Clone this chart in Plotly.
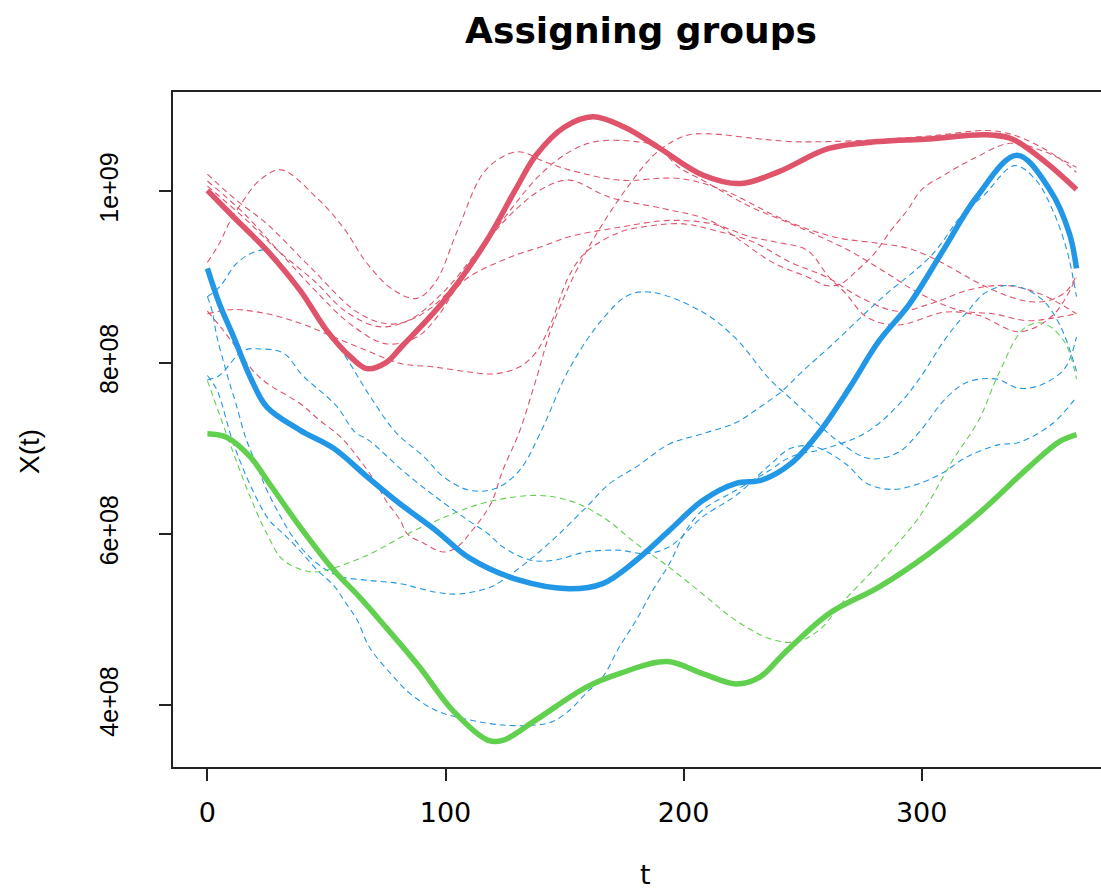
import plotly.graph_objects as go

SCALE = 1e8  # values below are in units of 1e8

# ---- thick group curves ----
red_mean_t = [0, 11, 25, 39, 50, 60, 67, 75, 82, 99, 117, 130, 138, 150, 162, 175, 189, 208, 224, 240, 261, 282, 303, 327, 338, 352, 365]
red_mean_v = [10.01, 9.70, 9.31, 8.84, 8.38, 8.07, 7.93, 8.0, 8.2, 8.71, 9.41, 10.05, 10.42, 10.75, 10.87, 10.75, 10.52, 10.19, 10.09, 10.23, 10.5, 10.58, 10.61, 10.66, 10.61, 10.34, 10.02]

blue_mean_t = [0, 5, 11, 18, 25, 39, 53, 67, 81, 96, 110, 131, 152, 166, 180, 194, 208, 222, 233, 245, 257, 270, 282, 295, 309, 323, 340, 354, 362, 365]
blue_mean_v = [9.10, 8.69, 8.30, 7.83, 7.48, 7.21, 7.0, 6.67, 6.35, 6.04, 5.72, 5.46, 5.36, 5.42, 5.69, 6.04, 6.39, 6.59, 6.63, 6.82, 7.19, 7.72, 8.25, 8.69, 9.31, 9.93, 10.42, 10.01, 9.51, 9.10]

green_mean_t = [0, 8, 18, 25, 39, 53, 64, 75, 89, 103, 118, 124, 138, 159, 173, 193, 208, 222, 232, 242, 261, 282, 303, 324, 345, 358, 365]
green_mean_v = [7.17, 7.13, 6.90, 6.63, 6.08, 5.58, 5.26, 4.91, 4.45, 3.94, 3.59, 3.59, 3.83, 4.21, 4.37, 4.51, 4.37, 4.25, 4.33, 4.6, 5.07, 5.38, 5.77, 6.24, 6.78, 7.08, 7.16]

# ---- red group members ----
red1_t = [0, 5, 9, 15, 22, 31, 45, 57, 67, 78, 88, 96, 105, 117, 130, 142, 152, 173, 198, 217, 238, 252, 266, 280, 295, 309, 323, 337, 346, 354, 361, 365]
red1_v = [9.17, 9.39, 9.62, 9.89, 10.13, 10.25, 9.95, 9.58, 9.16, 8.85, 8.75, 8.95, 9.54, 10.25, 10.46, 10.34, 10.25, 10.13, 10.15, 10.01, 9.72, 9.56, 9.45, 9.40, 9.33, 9.16, 8.94, 8.77, 8.71, 8.73, 8.84, 9.02]

red2_t = [0, 12, 25, 43, 64, 78, 92, 108, 125, 140, 152, 163, 180, 189, 198, 208, 218, 228, 240, 255, 270, 285, 299, 316, 330, 344, 355, 365]
red2_v = [10.20, 9.90, 9.62, 9.12, 8.57, 8.45, 8.6, 9.05, 9.7, 10.2, 10.46, 10.58, 10.58, 10.52, 10.28, 10.13, 9.97, 9.82, 9.68, 9.5, 9.3, 9.05, 8.81, 8.61, 8.57, 8.49, 8.52, 8.57]

red3_t = [0, 15, 30, 45, 60, 75, 88, 97, 107, 127, 140, 152, 173, 194, 212, 228, 240, 252, 261, 268, 277, 290, 310, 324, 341, 355, 365]
red3_v = [10.12, 9.75, 9.3, 8.85, 8.45, 8.22, 8.3, 8.55, 8.94, 9.23, 9.35, 9.47, 9.58, 9.66, 9.62, 9.47, 9.40, 9.31, 9.0, 8.81, 8.53, 8.44, 8.59, 8.55, 8.36, 8.55, 9.0]

red4_t = [0, 15, 30, 45, 58, 72, 85, 100, 115, 130, 142, 152, 169, 191, 211, 225, 238, 252, 260, 266, 273, 280, 287, 294, 300, 310, 323, 337, 350, 365]
red4_v = [10.06, 9.7, 9.3, 8.95, 8.6, 8.42, 8.5, 8.85, 9.35, 9.8, 10.05, 10.13, 9.93, 9.80, 9.66, 9.4, 9.16, 9.0, 8.9, 8.92, 9.08, 9.27, 9.54, 9.78, 10.02, 10.2, 10.40, 10.56, 10.48, 10.28]

red5_t = [0, 6, 12, 19, 25, 39, 47, 56, 63, 70, 75, 81, 84, 91, 99, 105, 110, 119, 124, 131, 138, 145, 159, 177, 189, 201, 211, 229, 245, 260, 280, 305, 327, 337, 347, 357, 365]
red5_v = [8.6, 8.4, 8.18, 7.91, 7.76, 7.52, 7.33, 7.13, 6.90, 6.63, 6.39, 6.16, 6.0, 5.89, 5.79, 5.85, 6.0, 6.35, 6.74, 7.19, 7.8, 8.44, 9.29, 10.07, 10.46, 10.65, 10.67, 10.62, 10.58, 10.58, 10.6, 10.65, 10.71, 10.67, 10.56, 10.40, 10.22]

red6_t = [0, 11, 25, 39, 53, 67, 81, 95, 110, 121, 131, 138, 144, 152, 159, 173, 187, 200, 212, 229, 245, 260, 275, 290, 305, 320, 335, 350, 365]
red6_v = [8.57, 8.62, 8.57, 8.46, 8.30, 8.14, 7.99, 7.95, 7.89, 7.87, 7.95, 8.12, 8.44, 9.02, 9.29, 9.52, 9.60, 9.62, 9.55, 9.41, 9.17, 9.0, 8.75, 8.6, 8.7, 8.85, 8.9, 8.8, 8.57]

# ---- blue group members ----
blue1_t = [0, 5, 12, 18, 25, 35, 46, 58, 68, 79, 91, 99, 110, 121, 131, 140, 152, 166, 177, 187, 208, 222, 236, 245, 254, 265, 278, 290, 299, 310, 319, 331, 341, 350, 360, 365]
blue1_v = [8.77, 8.88, 9.15, 9.27, 9.31, 9.0, 8.53, 8.07, 7.62, 7.19, 6.90, 6.67, 6.51, 6.53, 6.74, 7.19, 7.93, 8.51, 8.79, 8.82, 8.59, 8.28, 7.81, 7.58, 7.35, 7.08, 6.88, 6.95, 7.19, 7.58, 7.77, 7.81, 7.70, 7.74, 7.93, 8.3]

blue2_t = [0, 2, 4, 7, 9, 12, 16, 21, 25, 30, 36, 43, 50, 56, 67, 81, 96, 106, 119, 124, 135, 145, 159, 169, 180, 194, 208, 222, 232, 241, 250, 262, 283, 304, 318, 326, 339, 348, 355, 361, 365]
blue2_v = [8.77, 8.6, 8.3, 7.99, 7.79, 7.52, 7.13, 6.78, 6.51, 6.24, 5.96, 5.73, 5.58, 5.50, 5.46, 5.42, 5.32, 5.30, 5.38, 5.46, 5.69, 5.93, 6.31, 6.59, 6.78, 7.05, 7.17, 7.3, 7.48, 7.66, 7.9, 8.20, 8.75, 9.25, 9.76, 9.95, 10.30, 10.13, 9.78, 9.31, 8.77]

blue3_t = [0, 4, 11, 19, 26, 32, 39, 46, 53, 58, 63, 68, 77, 85, 96, 110, 124, 138, 145, 152, 159, 166, 173, 180, 187, 194, 201, 208, 222, 236, 245, 260, 277, 290, 299, 310, 319, 327, 338, 350, 358, 365]
blue3_v = [7.85, 7.68, 7.05, 6.51, 6.16, 6.0, 5.8, 5.58, 5.4, 5.2, 4.99, 4.68, 4.37, 4.14, 3.94, 3.83, 3.77, 3.77, 3.81, 3.94, 4.14, 4.33, 4.68, 4.99, 5.34, 5.65, 6.04, 6.28, 6.51, 6.74, 6.90, 7.0, 7.19, 7.5, 7.81, 8.28, 8.59, 8.82, 8.90, 8.75, 8.44, 7.9]

blue4_t = [0, 5, 15, 22, 32, 40, 54, 62, 68, 82, 96, 110, 118, 124, 135, 145, 159, 173, 184, 194, 208, 222, 236, 245, 255, 268, 277, 287, 297, 308, 319, 332, 341, 355, 365]
blue4_v = [7.80, 7.85, 8.14, 8.16, 8.11, 7.85, 7.50, 7.19, 7.09, 6.74, 6.43, 6.15, 6.0, 5.85, 5.70, 5.69, 5.79, 5.81, 5.77, 5.85, 6.2, 6.45, 6.8, 7.0, 7.02, 6.82, 6.59, 6.52, 6.57, 6.70, 6.90, 7.04, 7.07, 7.29, 7.6]

# ---- green group member ----
green1_t = [0, 5, 11, 18, 25, 32, 43, 50, 67, 84, 100, 117, 138, 152, 166, 180, 194, 208, 222, 236, 247, 257, 267, 282, 299, 313, 324, 332, 343, 351, 360, 365]
green1_v = [7.79, 7.40, 6.94, 6.43, 6.0, 5.69, 5.56, 5.58, 5.75, 6.0, 6.2, 6.37, 6.45, 6.39, 6.20, 5.89, 5.61, 5.30, 4.99, 4.78, 4.74, 4.88, 5.21, 5.65, 6.2, 6.86, 7.33, 7.85, 8.40, 8.46, 8.24, 7.81]

x_tick_vals = [0, 100, 200, 300]
x_tick_text = ["0", "100", "200", "300"]
y_tick_vals = [4e8, 6e8, 8e8, 1e9]
y_tick_text = ["4e+08", "6e+08", "8e+08", "1e+09"]

RED = "#DF536B"
GREEN = "#61D04F"
BLUE = "#2297E6"

# plot-area pixel geometry (used for layout only)
W, H = 1101, 890
L, R, T, B = 173, 1101, 92, 767

fig = go.Figure()

members = [
    (red1_t, red1_v, RED), (red2_t, red2_v, RED), (red3_t, red3_v, RED),
    (red4_t, red4_v, RED), (red5_t, red5_v, RED), (red6_t, red6_v, RED),
    (blue1_t, blue1_v, BLUE), (blue2_t, blue2_v, BLUE), (blue3_t, blue3_v, BLUE),
    (blue4_t, blue4_v, BLUE),
    (green1_t, green1_v, GREEN),
]
for tt, vv, col in members:
    fig.add_trace(go.Scatter(
        x=tt, y=[v * SCALE for v in vv], mode="lines",
        line=dict(color=col, width=1.1, dash="6px,4px", shape="spline", smoothing=1.0),
        hoverinfo="skip", showlegend=False))

for tt, vv, col in [(red_mean_t, red_mean_v, RED), (green_mean_t, green_mean_v, GREEN),
                    (blue_mean_t, blue_mean_v, BLUE)]:
    fig.add_trace(go.Scatter(
        x=tt, y=[v * SCALE for v in vv], mode="lines",
        line=dict(color=col, width=5.5, shape="spline", smoothing=1.0),
        hoverinfo="skip", showlegend=False))

fig.update_layout(
    width=W, height=H,
    margin=dict(l=L, r=W - R, t=T, b=H - B),
    paper_bgcolor="white", plot_bgcolor="white",
    showlegend=False,
    title=dict(text="<b>Assigning groups</b>", x=641 / W, xref="container", xanchor="center",
               y=1 - 30 / H, yref="container", yanchor="middle",
               font=dict(family="DejaVu Sans", size=36, color="black")),
    xaxis=dict(range=[-14.45, 375.3], tickvals=x_tick_vals, ticktext=x_tick_text,
               showgrid=False, zeroline=False, showline=True, mirror=True,
               linecolor="#222", linewidth=1.5, ticks="outside", ticklen=12,
               tickwidth=1.5, tickcolor="#222", ticklabelstandoff=9,
               tickfont=dict(family="DejaVu Sans", size=27, color="black")),
    yaxis=dict(range=[3.28e8, 1.1159e9], tickvals=y_tick_vals, ticktext=y_tick_text,
               showgrid=False, zeroline=False, showline=True, mirror=False,
               linecolor="#222", linewidth=1.5, ticks="outside", ticklen=12,
               tickwidth=1.5, tickcolor="#222", tickangle=-90, ticklabelstandoff=31,
               tickfont=dict(family="Liberation Sans, Arial", size=25, color="black")),
)
fig.add_annotation(text="t", xref="paper", yref="paper",
                   x=(645 - L) / (R - L), y=-(874 - B) / (B - T),
                   showarrow=False, xanchor="center", yanchor="middle",
                   font=dict(family="DejaVu Sans", size=27, color="black"))
fig.add_annotation(text="X(t)", xref="paper", yref="paper",
                   x=-(L - 29) / (R - L), y=(B - 452) / (B - T),
                   showarrow=False, xanchor="center", yanchor="middle", textangle=-90,
                   font=dict(family="Liberation Sans, Arial", size=28, color="black"))

fig.write_html("out.html")
